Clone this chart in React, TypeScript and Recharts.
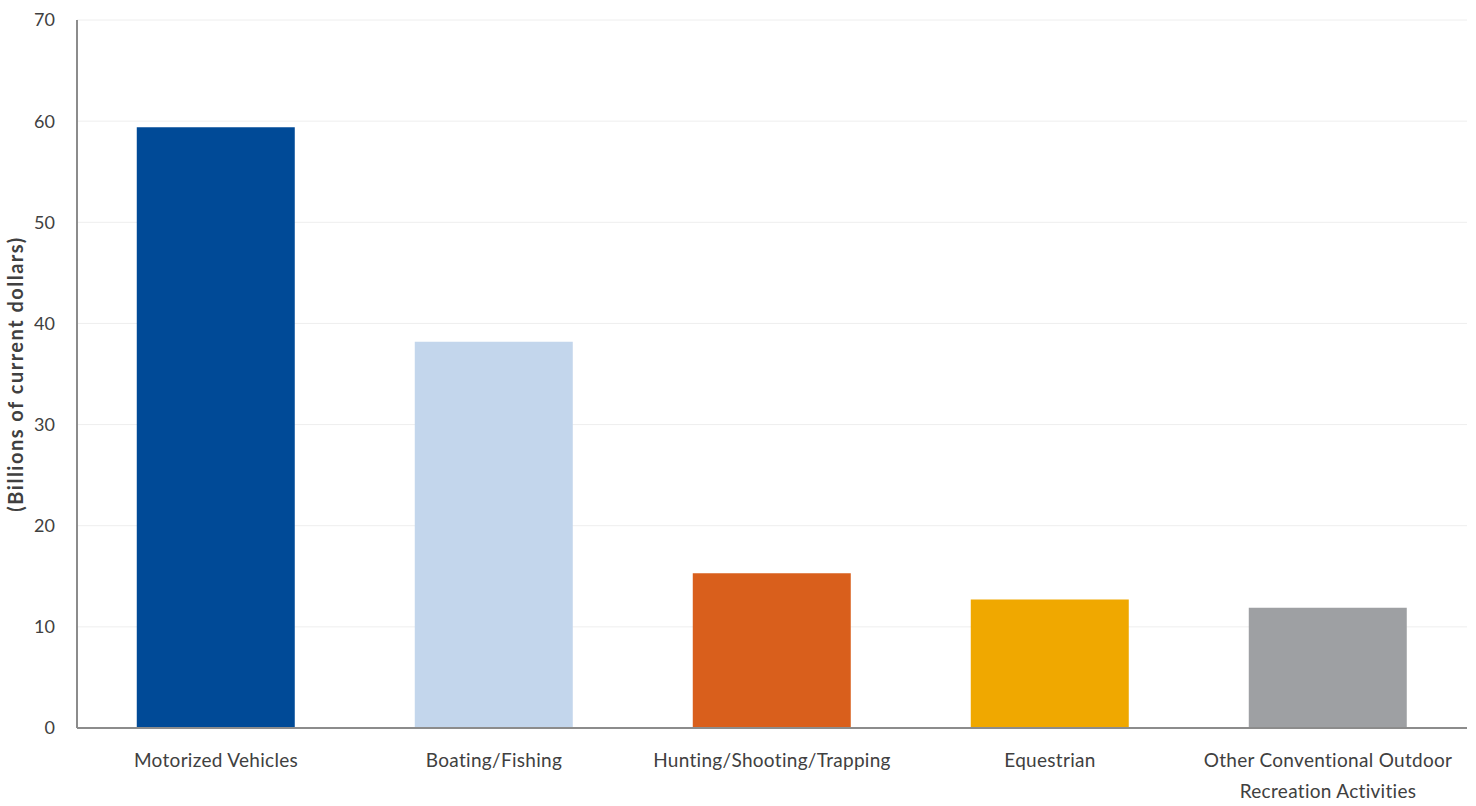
import { Bar, BarChart, CartesianGrid, Cell, XAxis, YAxis } from 'recharts';

const categories = [
  'Motorized Vehicles',
  'Boating/Fishing',
  'Hunting/Shooting/Trapping',
  'Equestrian',
  'Other Conventional Outdoor Recreation Activities',
];
const values = [59.4, 38.2, 15.3, 12.7, 11.9];
const barColors = ['#004a97', '#c3d6ec', '#d95f1c', '#f0a800', '#9ea0a3'];
const yTicks = [0, 10, 20, 30, 40, 50, 60, 70];

const data = categories.map((name, i) => ({ name, value: values[i] }));

const FONT = 'Lato, "Open Sans", sans-serif';

function CategoryTick(props: any) {
  const { x, y, payload } = props;
  const label: string = payload.value;
  // long label wraps onto two lines like the source
  const lines =
    label.length > 30 ? ['Other Conventional Outdoor', 'Recreation Activities'] : [label];
  return (
    <g transform={`translate(${x},${y})`}>
      {lines.map((line, i) => (
        <text
          key={line}
          x={0}
          y={26 + i * 31}
          textAnchor='middle'
          dominantBaseline='middle'
          fill='#404040'
          fontSize={19}
          letterSpacing={0.3}
          fontFamily={FONT}
        >
          {line}
        </text>
      ))}
    </g>
  );
}

function AxisTitle(props: any) {
  const { viewBox } = props;
  const cx = viewBox.x + 18;
  const cy = viewBox.y + viewBox.height / 2;
  return (
    <text
      x={cx}
      y={cy}
      transform={`rotate(-90, ${cx}, ${cy})`}
      textAnchor='middle'
      dominantBaseline='middle'
      fill='#404040'
      fontSize={20}
      fontWeight='bold'
      letterSpacing={1.5}
      fontFamily={FONT}
    >
      (Billions of current dollars)
    </text>
  );
}

export default function App() {
  return (
    <div style={{ position: 'absolute', left: 0, top: 0, background: '#fff' }}>
      <BarChart
        width={1476}
        height={806}
        data={data}
        margin={{ top: 20, right: 9, bottom: 0, left: 0 }}
        barCategoryGap='21.5%'
      >
        <CartesianGrid vertical={false} stroke='#eeeeee' />
        <XAxis
          dataKey='name'
          interval={0}
          tickLine={false}
          axisLine={{ stroke: '#8c8c8c', strokeWidth: 2 }}
          tick={<CategoryTick />}
          height={78}
        />
        <YAxis
          width={77}
          domain={[0, 70]}
          ticks={yTicks}
          tickLine={false}
          axisLine={{ stroke: '#8c8c8c', strokeWidth: 2 }}
          tickMargin={16}
          tick={{ fill: '#404040', fontSize: 18, fontFamily: FONT }}
          label={{ content: (p: any) => <AxisTitle {...p} /> }}
        />
        <Bar dataKey='value' isAnimationActive={false}>
          {data.map((d, i) => (
            <Cell key={d.name} fill={barColors[i]} />
          ))}
        </Bar>
      </BarChart>
    </div>
  );
}
